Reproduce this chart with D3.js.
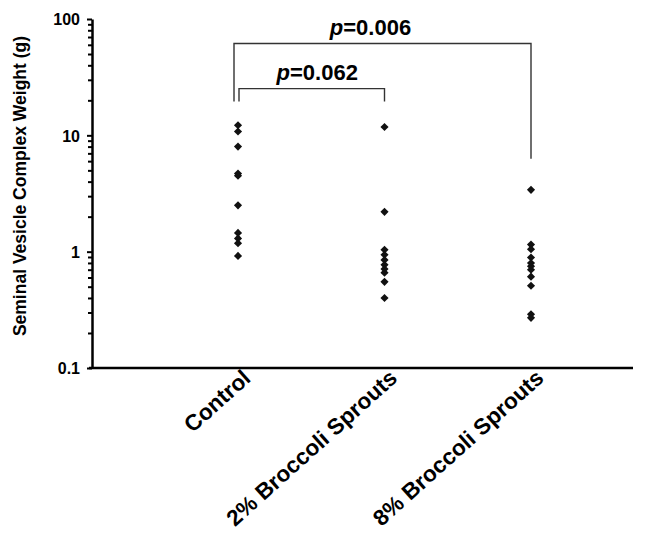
<!DOCTYPE html>
<html>
<head>
<meta charset="utf-8">
<script src="https://cdn.jsdelivr.net/npm/d3@7"></script>
<style>
  body { margin: 0; background: #fff; }
  svg text { font-family: "Liberation Sans", Arial, sans-serif; font-weight: bold; fill: #000; }
</style>
</head>
<body>
<div id="chart"></div>
<script>
// groups and the weights (g)
const groups = ["Control", "2% Broccoli Sprouts", "8% Broccoli Sprouts"];
const control = [12.2, 10.8, 8.0, 4.7, 4.5, 2.5, 1.45, 1.3, 1.18, 0.92];
const sprouts2 = [11.8, 2.2, 1.04, 0.94, 0.85, 0.77, 0.71, 0.66, 0.55, 0.40];
const sprouts8 = [3.4, 1.15, 1.05, 0.89, 0.80, 0.75, 0.70, 0.61, 0.51, 0.29, 0.27];
const yTicks = [0.1, 1, 10, 100];

// significance brackets: from, to, p-value, bar level, leg ends (g)
const brackets = [
    { from: "Control", to: "2% Broccoli Sprouts", p: "0.062", top: 25.2, legFrom: 19.5, legTo: 19.5, shift: 1 },
    { from: "Control", to: "8% Broccoli Sprouts", p: "0.006", top: 61.5, legFrom: 19.5, legTo: 6.3, shift: -4 }
];

const width = 645;
const height = 538;
const margin = { left: 92, top: 19, right: 12, bottom: 170 };

const svg = d3.select("#chart")
    .append("svg")
    .attr("width", width)
    .attr("height", height);

const x = d3.scalePoint()
    .domain(groups)
    .range([238, 531]);

const y = d3.scaleLog()
    .domain([0.1, 100])
    .range([height - margin.bottom, margin.top]);

const minor = [];
for (let e = -1; e < 2; e++) {
    for (let k = 2; k < 10; k++) minor.push(k * Math.pow(10, e));
}

// minor ticks
svg.append("g")
    .attr("transform", `translate(${margin.left},0)`)
    .call(d3.axisLeft(y).tickValues(minor).tickSize(4).tickFormat(""))
    .call(g => g.select(".domain").remove())
    .selectAll("line").attr("stroke", "#000").attr("stroke-width", 2);

// major ticks and labels
const yAxis = svg.append("g")
    .attr("transform", `translate(${margin.left},0)`)
    .call(d3.axisLeft(y).tickValues(yTicks).tickSize(5).tickSizeOuter(0).tickPadding(7)
        .tickFormat(d => d < 1 ? "0.1" : d3.format("d")(d)));
yAxis.select(".domain").attr("stroke", "#000").attr("stroke-width", 2.5);
yAxis.selectAll("line").attr("stroke", "#000").attr("stroke-width", 2);
yAxis.selectAll("text")
    .style("font-size", "16px")
    .style("font-family", "Liberation Sans, Arial, sans-serif")
    .style("font-weight", "bold")
    .attr("dy", "0.36em");

// x baseline
svg.append("line")
    .attr("x1", margin.left - 3)
    .attr("x2", width - margin.right)
    .attr("y1", y(0.1))
    .attr("y2", y(0.1))
    .attr("stroke", "#000")
    .attr("stroke-width", 2.5);

// y title
svg.append("text")
    .attr("transform", `translate(26,186) rotate(-90)`)
    .attr("text-anchor", "middle")
    .style("font-size", "17.5px")
    .text("Seminal Vesicle Complex Weight (g)");

// group labels
svg.selectAll(".group-label")
    .data(groups)
    .join("text")
        .attr("class", "group-label")
        .attr("text-anchor", "end")
        .style("font-size", "22.5px")
        .attr("transform", d => `translate(${x(d) + 14},${y(0.1) + 12}) rotate(-42)`)
        .text(d => d);

// points
const series = [control, sprouts2, sprouts8];
const diamond = d3.symbol().type(d3.symbolDiamond2).size(42);
svg.selectAll(".grp")
    .data(series)
    .join("g")
        .attr("class", "grp")
    .selectAll("path")
    .data((vals, i) => vals.map(v => ({ g: groups[i], v })))
    .join("path")
        .attr("d", diamond)
        .attr("fill", "#111")
        .attr("transform", d => `translate(${x(d.g)},${y(d.v)})`);

// brackets
const gB = svg.selectAll(".bracket")
    .data(brackets)
    .join("g")
        .attr("class", "bracket");

gB.append("path")
    .attr("fill", "none")
    .attr("stroke", "#333")
    .attr("stroke-width", 1.4)
    .attr("d", d => {
        const x0 = x(d.from) + d.shift;
        const x1 = x(d.to);
        return `M${x0},${y(d.legFrom)}V${y(d.top)}H${x1}V${y(d.legTo)}`;
    });

const lbl = gB.append("text")
    .attr("text-anchor", "middle")
    .style("font-size", "22px")
    .attr("x", d => (x(d.from) + x(d.to)) / 2 + (d.shift > 0 ? 6 : -14))
    .attr("y", d => y(d.top) - 9);
lbl.append("tspan").style("font-style", "italic").text("p");
lbl.append("tspan").text(d => "=" + d.p);
</script>
</body>
</html>
